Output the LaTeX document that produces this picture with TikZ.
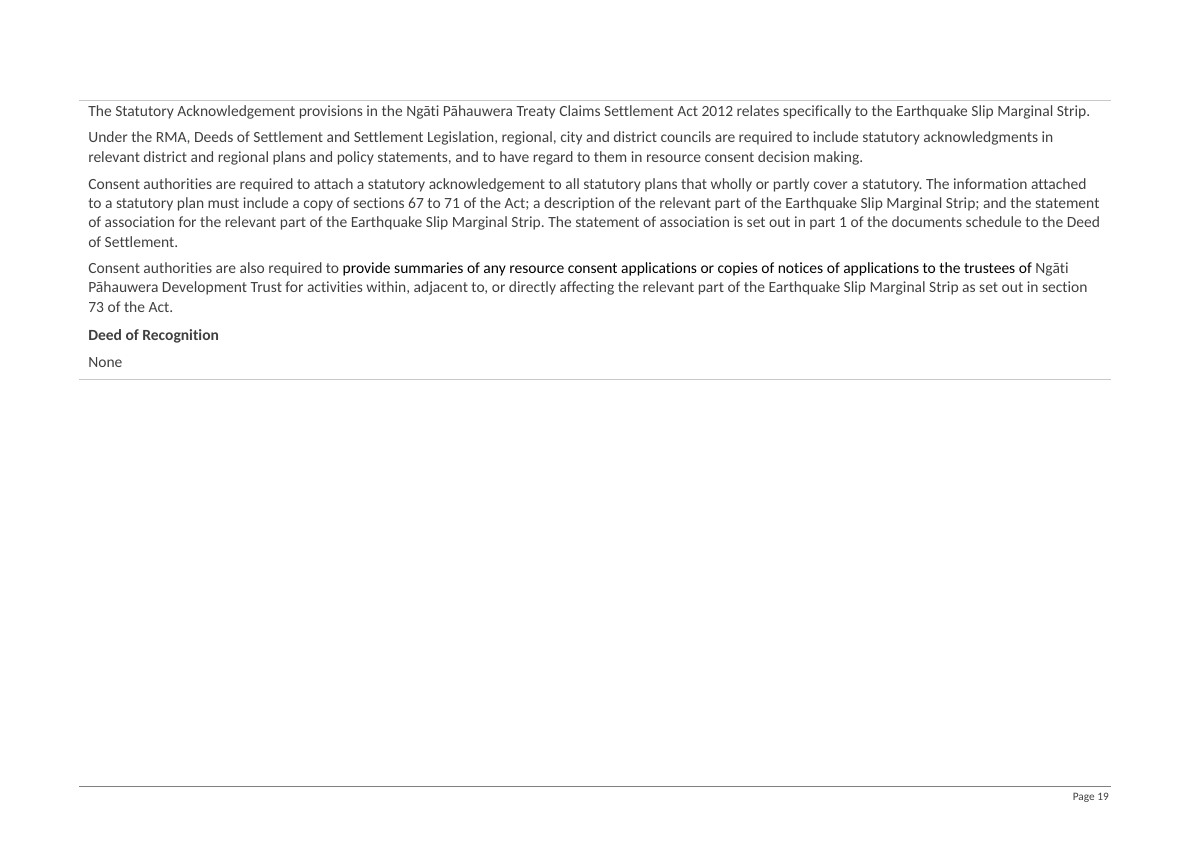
\documentclass[tikz,border=0pt]{standalone}
\usepackage{fontspec}
\setmainfont{Carlito}[Ligatures={NoCommon}]
\frenchspacing
\definecolor{bodygray}{HTML}{404040}
\definecolor{rulelight}{HTML}{C8C8C8}
\definecolor{ruledark}{HTML}{808080}
\begin{document}
\begin{tikzpicture}[x=0.7076pt,y=-0.7076pt,
  para/.style={anchor=base west,inner sep=0pt,align=left,text=bodygray,
    font=\fontsize{11}{13.45}\selectfont}]
\useasboundingbox (0,0) rectangle (1190,842);
\fill[white] (0,0) rectangle (1190,842);
% rules
\coordinate (t0) at (79,100);
\coordinate (t1) at (1111,100);
\coordinate (m0) at (79,379);
\coordinate (m1) at (1111,379);
\coordinate (b0) at (79,786);
\coordinate (b1) at (1111,786);
\draw[rulelight,line width=0.6pt] (t0) -- (t1);
\draw[rulelight,line width=0.6pt] (m0) -- (m1);
\draw[ruledark,line width=0.6pt] (b0) -- (b1);
% text (base anchor = last line)
\node[para] (p1) at (88,116) {The Statutory Acknowledgement provisions in the Ngāti Pāhauwera Treaty Claims Settlement Act 2012 relates specifically to the Earthquake Slip Marginal Strip.};
\node[para] (p2) at (88,162) {Under the RMA, Deeds of Settlement and Settlement Legislation, regional, city and district councils are required to include statutory acknowledgments in\\
relevant district and regional plans and policy statements, and to have regard to them in resource consent decision making.};
\node[para] (p3) at (88,247) {Consent authorities are required to attach a statutory acknowledgement to all statutory plans that wholly or partly cover a statutory. The information attached\\
to a statutory plan must include a copy of sections 67 to 71 of the Act; a description of the relevant part of the Earthquake Slip Marginal Strip; and the statement\\
of association for the relevant part of the Earthquake Slip Marginal Strip. The statement of association is set out in part 1 of the documents schedule to the Deed\\
of Settlement.};
\node[para] (p4) at (88,312) {Consent authorities are also required to \textcolor{black}{provide summaries of any resource consent applications or copies of notices of applications to the trustees of} Ngāti\\
Pāhauwera Development Trust for activities within, adjacent to, or directly affecting the relevant part of the Earthquake Slip Marginal Strip as set out in section\\
73 of the Act.};
\node[para,font=\fontsize{11}{13.45}\selectfont\bfseries] (h1) at (88,340) {Deed of Recognition};
\node[para] (p5) at (88,367) {None};
\node[anchor=base east,inner sep=0pt,text=bodygray,font=\fontsize{8}{9}\selectfont] (pg) at (1109,800) {Page 19};
\end{tikzpicture}
\end{document}
